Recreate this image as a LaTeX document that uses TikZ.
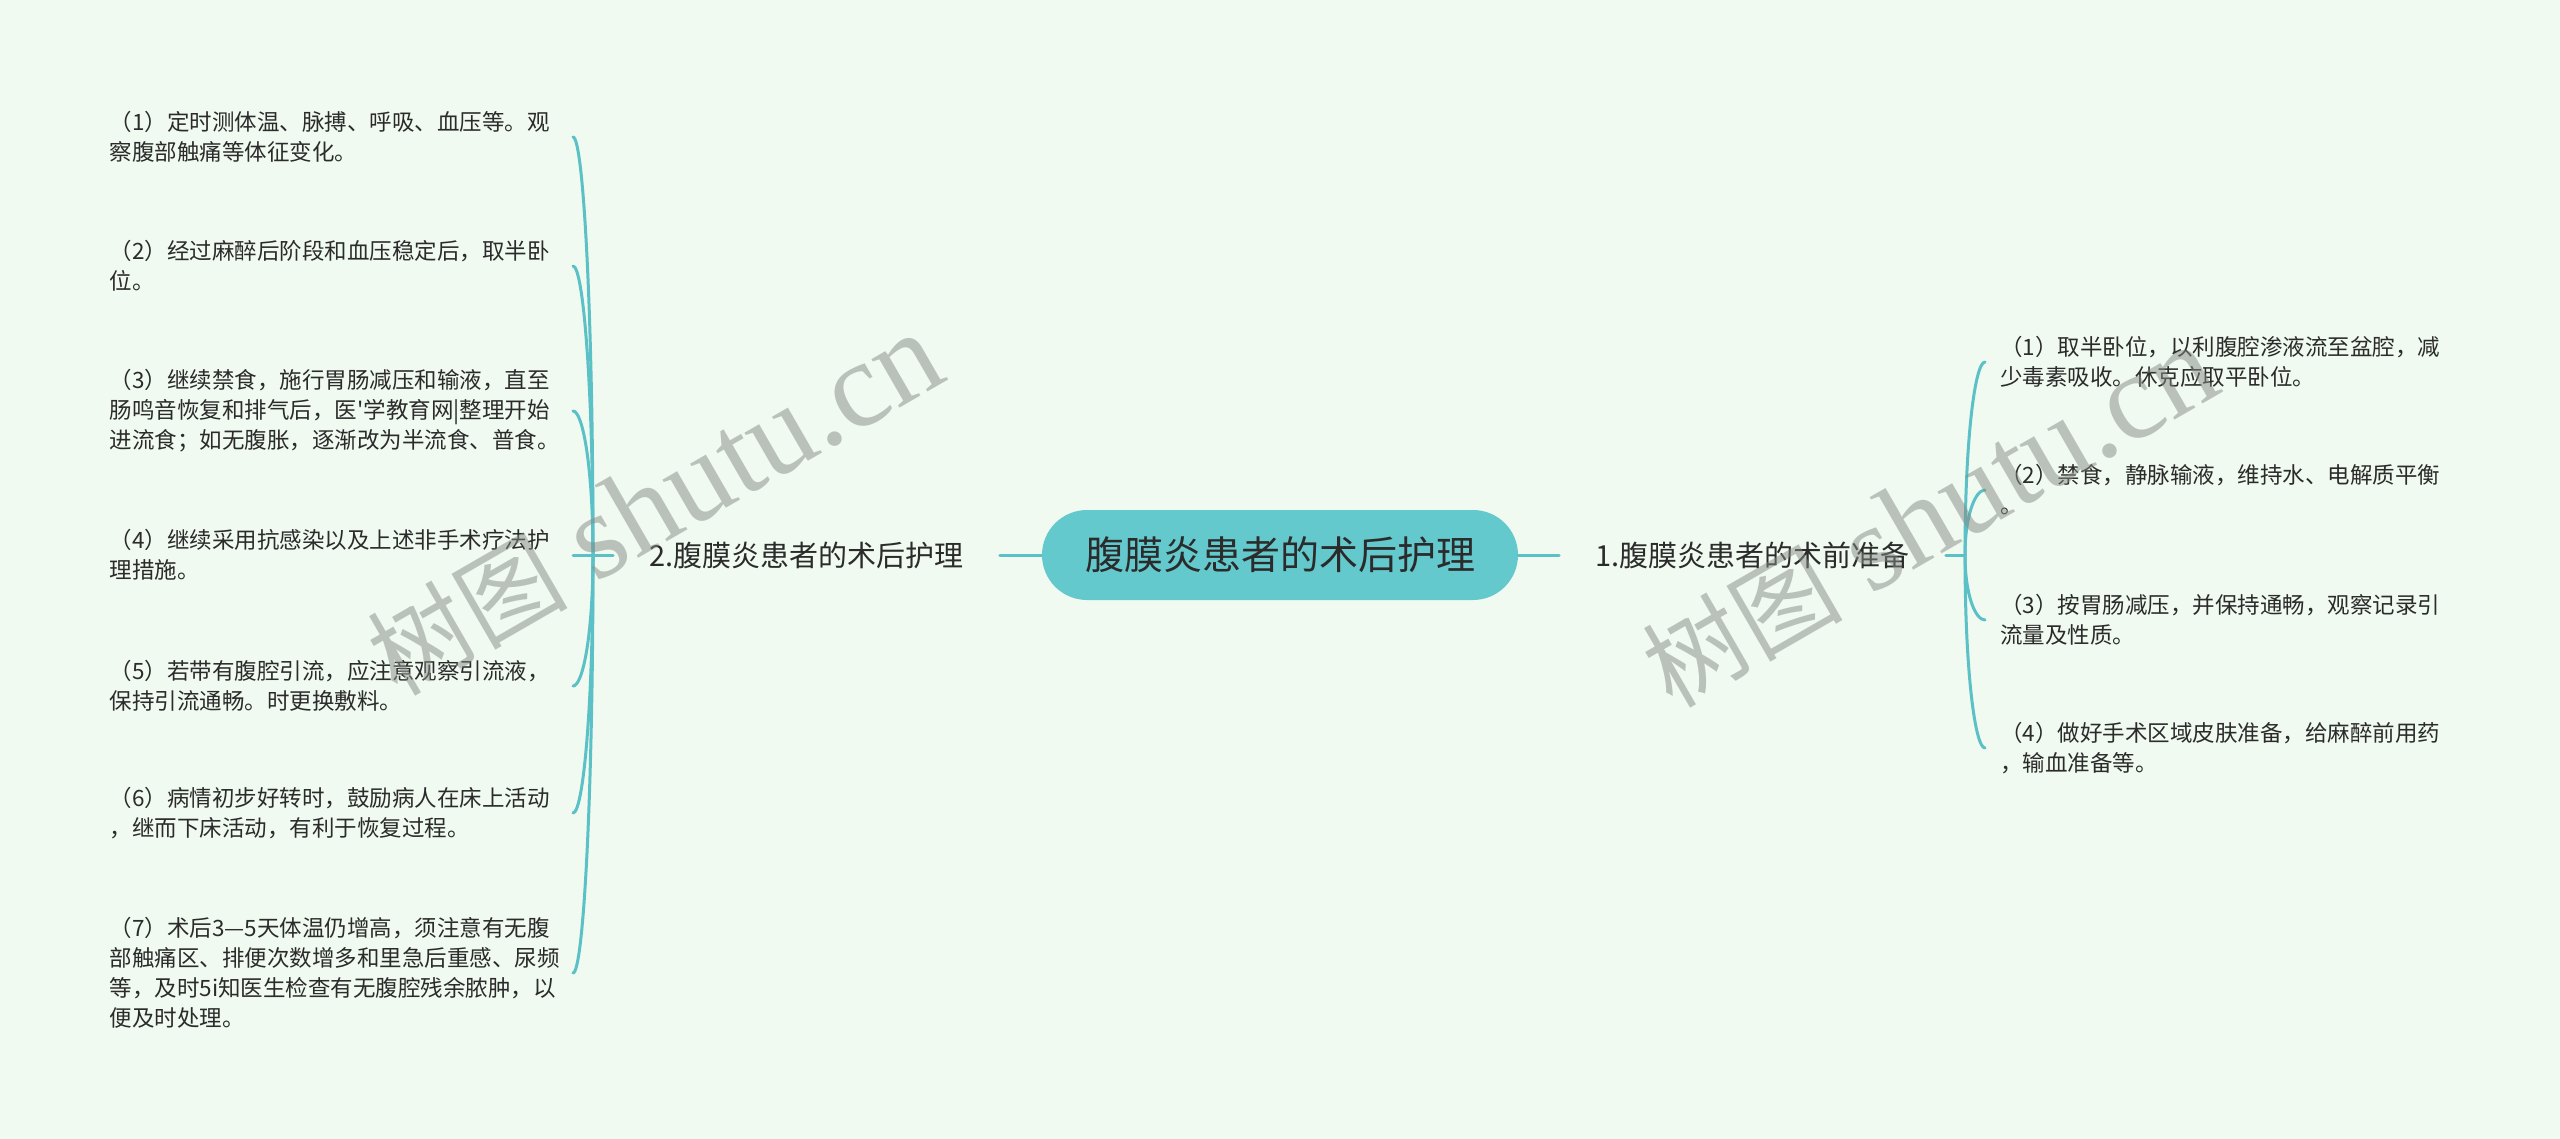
\documentclass[tikz,border=0pt]{standalone}
\usepackage{fontspec}
\setmainfont{Liberation Serif}
\newfontfamily\cjk{Noto Sans CJK SC}
\usetikzlibrary{calc}
\definecolor{bgcol}{HTML}{F0FAF0}
\definecolor{rootcol}{HTML}{64C9CD}
\definecolor{linecol}{HTML}{5CC1C6}
\definecolor{txtcol}{HTML}{2B2B2B}
\definecolor{wmcol}{HTML}{858A85}
\newcommand{\leaffont}{\cjk\fontsize{22.5}{30}\selectfont}
\begin{document}
\begin{tikzpicture}[x=1pt,y=-1pt,
  conn/.style={draw=linecol, line width=3pt, line cap=round},
  rootbox/.style={fill=rootcol, rounded corners=45pt, minimum width=476pt, minimum height=90pt, inner sep=0pt, text=txtcol, font=\cjk\fontsize{39}{39}\selectfont},
  branchbox/.style={inner xsep=36pt, inner ysep=4pt, text=txtcol, font=\cjk\fontsize{29}{29}\selectfont},
  leafL/.style={anchor=east, text width=450pt, inner xsep=13pt, inner ysep=0pt, align=left, text=txtcol, font=\leaffont},
  leafR/.style={anchor=west, text width=450pt, inner xsep=15pt, inner ysep=0pt, align=left, text=txtcol, font=\leaffont},
  wmark/.style={rotate=30, text=wmcol, opacity=0.5, inner sep=0pt}
]
\useasboundingbox (0,0) rectangle (2560,1139);
\fill[bgcol] (0,0) rectangle (2560,1139);

% root and branches
\node[rootbox] (root) at (1280,555) {腹膜炎患者的术后护理};
\node[branchbox] (b2) at (806.5,555) {2.腹膜炎患者的术后护理};
\node[branchbox] (b1) at (1752.5,555) {1.腹膜炎患者的术前准备};
\coordinate (lsp) at (593,555);
\coordinate (rsp) at (1965,555);

% left leaves
\node[leafL] (l1) at (573,137) {（1）定时测体温、脉搏、呼吸、血压等。观\\察腹部触痛等体征变化。};
\node[leafL] (l2) at (573,266) {（2）经过麻醉后阶段和血压稳定后，取半卧\\位。};
\node[leafL] (l3) at (573,411) {（3）继续禁食，施行胃肠减压和输液，直至\\肠鸣音恢复和排气后，医'学教育网|整理开始\\进流食；如无腹胀，逐渐改为半流食、普食。};
\node[leafL] (l4) at (573,555) {（4）继续采用抗感染以及上述非手术疗法护\\理措施。};
\node[leafL] (l5) at (573,686) {（5）若带有腹腔引流，应注意观察引流液，\\保持引流通畅。时更换敷料。};
\node[leafL] (l6) at (573,813) {（6）病情初步好转时，鼓励病人在床上活动\\，继而下床活动，有利于恢复过程。};
\node[leafL] (l7) at (573,973) {（7）术后3—5天体温仍增高，须注意有无腹\\部触痛区、排便次数增多和里急后重感、尿频\\等，及时5i知医生检查有无腹腔残余脓肿，以\\便及时处理。};

% right leaves
\node[leafR] (r1) at (1985,362) {（1）取半卧位，以利腹腔渗液流至盆腔，减\\少毒素吸收。休克应取平卧位。};
\node[leafR] (r2) at (1985,490) {（2）禁食，静脉输液，维持水、电解质平衡\\。};
\node[leafR] (r3) at (1985,620) {（3）按胃肠减压，并保持通畅，观察记录引\\流量及性质。};
\node[leafR] (r4) at (1985,748) {（4）做好手术区域皮肤准备，给麻醉前用药\\，输血准备等。};

% connectors
\draw[conn] (root.west) -- (b2.east);
\draw[conn] (root.east) -- (b1.west);
\draw[conn] (b2.west) -- (lsp);
\draw[conn] (b1.east) -- (rsp);
\foreach \n in {l1,l2,l3,l5,l6,l7}{
  \draw[conn] (lsp) .. controls ($(lsp)!0.6!(lsp|-\n.east)$) and ($(\n.east)+(10,0)$) .. (\n.east);
}
\draw[conn] (lsp) -- (l4.east);
\foreach \n in {r1,r2,r3,r4}{
  \draw[conn] (rsp) .. controls ($(rsp)!0.6!(rsp|-\n.west)$) and ($(\n.west)+(-10,0)$) .. (\n.west);
}

% watermarks
\node[wmark] (wm1) at (655,505) {{\cjk\fontsize{100}{100}\selectfont 树图}\hspace{28pt}{\fontsize{122}{122}\selectfont shutu.cn}};
\node[wmark] (wm2) at (1930,517) {{\cjk\fontsize{100}{100}\selectfont 树图}\hspace{28pt}{\fontsize{122}{122}\selectfont shutu.cn}};
\end{tikzpicture}
\end{document}
